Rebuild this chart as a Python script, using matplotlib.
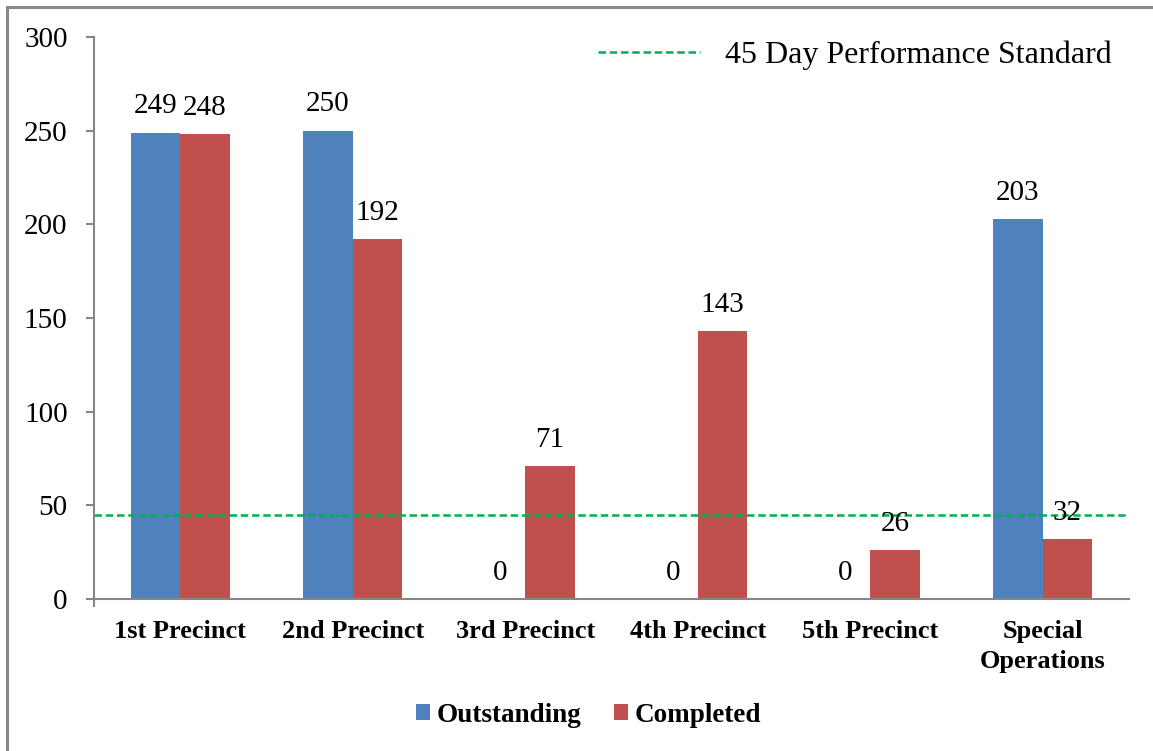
import matplotlib
matplotlib.use("Agg")
import matplotlib.pyplot as plt
import numpy as np
from matplotlib.lines import Line2D

categories = ["1st Precinct", "2nd Precinct", "3rd Precinct", "4th Precinct",
              "5th Precinct", "Special\nOperations"]
outstanding = [249, 250, 0, 0, 0, 203]
completed = [248, 192, 71, 143, 26, 32]
standard = 45
yticks = [0, 50, 100, 150, 200, 250, 300]

BLUE = "#4F81BD"
RED = "#C0504D"
GREEN = "#00B050"
GRAY = "#868686"

plt.rcParams['font.family'] = ['Liberation Serif', 'DejaVu Serif']

W, H = 1153, 751
fig = plt.figure(figsize=(W / 100, H / 100), dpi=100)
ax = fig.add_axes([94 / W, 1 - 599 / H, (1129 - 94) / W, (599 - 37) / H])

x = np.arange(len(categories))
w = 0.287
b1 = ax.bar(x - w / 2, outstanding, w, color=BLUE, label="Outstanding")
b2 = ax.bar(x + w / 2, completed, w, color=RED, label="Completed")
std_line = ax.axhline(standard, color=GREEN, ls=(0, (3, 1.5)), lw=1.8,
                      label="45 Day Performance Standard")

for bars in (b1, b2):
    ax.bar_label(bars, padding=9.5, fontsize=21)

ax.set_xlim(-0.5, len(categories) - 0.5)
ax.set_ylim(0, 300)
ax.set_yticks(yticks)
ax.tick_params(axis='y', direction='out', length=6, width=1.5, color=GRAY,
               pad=13, labelsize=21)
ax.set_xticks(x)
ax.set_xticklabels(categories, fontsize=19, fontweight='bold', linespacing=1.4)
ax.tick_params(axis='x', length=0, pad=15)
ax.set_xticks([-0.5], minor=True)
ax.tick_params(axis='x', which='minor', direction='out', length=6, width=1.5,
               color=GRAY)

for s in ('top', 'right'):
    ax.spines[s].set_visible(False)
for s in ('left', 'bottom'):
    ax.spines[s].set_color(GRAY)
    ax.spines[s].set_linewidth(1.5)

fig.legend(handles=[std_line], loc='center left',
           bbox_to_anchor=(598 / W, 1 - 55 / H), frameon=False,
           fontsize=23, handlelength=3.2, handletextpad=0.78,
           borderpad=0, borderaxespad=0)

fig.legend(handles=[b1, b2], loc='center left', ncol=2,
           bbox_to_anchor=(416 / W, 1 - 715 / H), frameon=False,
           prop={'size': 19.5, 'weight': 'bold'}, handlelength=0.52,
           handleheight=0.52, handletextpad=0.26, columnspacing=1.18,
           borderpad=0, borderaxespad=0)

fig.add_artist(Line2D([6.5 / W, 1], [1 - 6.5 / H] * 2, transform=fig.transFigure,
                      color="#888888", lw=2.2))
fig.add_artist(Line2D([6.5 / W] * 2, [0, 1 - 6.5 / H], transform=fig.transFigure,
                      color="#888888", lw=2.2))

fig.savefig("out.png", dpi=100)
